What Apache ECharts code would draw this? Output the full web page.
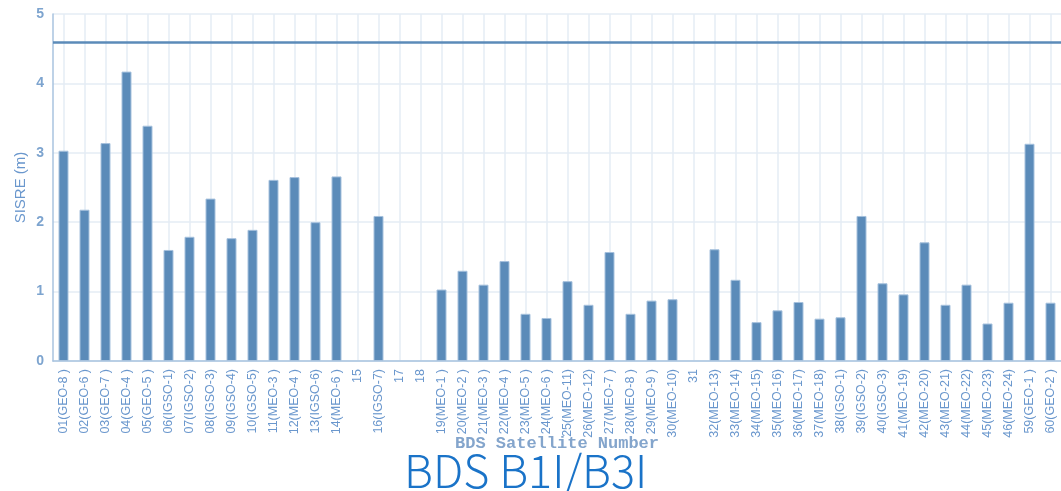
<!DOCTYPE html>
<html>
<head>
<meta charset="utf-8">
<script src="https://cdn.jsdelivr.net/npm/echarts@6/dist/echarts.min.js"></script>
<style>
  html, body { margin: 0; padding: 0; background: #fff; }
  #main { width: 1061px; height: 491px; }
</style>
</head>
<body>
<div id="main"></div>
<script>
// satellite labels on the x axis
var satellites = [
  '01(GEO-8 )', '02(GEO-6 )', '03(GEO-7 )', '04(GEO-4 )', '05(GEO-5 )',
  '06(IGSO-1)', '07(IGSO-2)', '08(IGSO-3)', '09(IGSO-4)', '10(IGSO-5)',
  '11(MEO-3 )', '12(MEO-4 )', '13(IGSO-6)', '14(MEO-6 )', '15',
  '16(IGSO-7)', '17', '18', '19(MEO-1 )', '20(MEO-2 )',
  '21(MEO-3 )', '22(MEO-4 )', '23(MEO-5 )', '24(MEO-6 )', '25(MEO-11)',
  '26(MEO-12)', '27(MEO-7 )', '28(MEO-8 )', '29(MEO-9 )', '30(MEO-10)',
  '31', '32(MEO-13)', '33(MEO-14)', '34(MEO-15)', '35(MEO-16)',
  '36(MEO-17)', '37(MEO-18)', '38(IGSO-1)', '39(IGSO-2)', '40(IGSO-3)',
  '41(MEO-19)', '42(MEO-20)', '43(MEO-21)', '44(MEO-22)', '45(MEO-23)',
  '46(MEO-24)', '59(GEO-1 )', '60(GEO-2 )'
];
// SISRE values (m), '-' = no data
var sisre = [
  3.03, 2.18, 3.14, 4.17, 3.39,
  1.60, 1.79, 2.34, 1.77, 1.89,
  2.61, 2.65, 2.00, 2.66, '-',
  2.09, '-', '-', 1.03, 1.30,
  1.10, 1.44, 0.68, 0.62, 1.15,
  0.81, 1.57, 0.68, 0.87, 0.89,
  '-', 1.61, 1.17, 0.56, 0.73,
  0.85, 0.61, 0.63, 2.09, 1.12,
  0.96, 1.71, 0.81, 1.10, 0.54,
  0.84, 3.13, 0.84
];
var limitLine = 4.6;
var yTicks = [0, 1, 2, 3, 4, 5];

var chart = echarts.init(document.getElementById('main'), null, { renderer: 'canvas' });

var labelColor = '#6a97cd';
var axisColor = '#a9c3df';

var option = {
  animation: false,
  grid: {
    left: 53,
    right: -2,
    top: 14,
    bottom: 130,
    containLabel: false
  },
  xAxis: {
    type: 'category',
    data: satellites,
    name: 'BDS Satellite Number',
    nameLocation: 'middle',
    nameGap: 74,
    nameMoveOverlap: false,
    nameTextStyle: {
      fontFamily: 'Liberation Mono',
      fontWeight: 'bold',
      fontSize: 17,
      color: '#84a5cc'
    },
    axisLine: { lineStyle: { color: axisColor, width: 1.5 } },
    axisTick: { show: false },
    axisLabel: {
      interval: 0,
      rotate: 90,
      margin: 8,
      fontFamily: 'Liberation Sans Narrow, Liberation Sans, sans-serif',
      fontSize: 12.5,
      color: labelColor
    },
    splitLine: {
      show: true,
      alignWithLabel: true,
      lineStyle: { color: '#e5ecf5', width: 1.5 }
    }
  },
  yAxis: {
    type: 'value',
    min: yTicks[0],
    max: yTicks[yTicks.length - 1],
    interval: 1,
    name: 'SISRE (m)',
    nameLocation: 'middle',
    nameGap: 25,
    nameMoveOverlap: false,
    nameTextStyle: {
      fontFamily: 'Liberation Sans Narrow, Liberation Sans, sans-serif',
      fontSize: 15,
      color: labelColor
    },
    axisLine: { show: true, lineStyle: { color: axisColor, width: 1.5 } },
    axisTick: { show: false },
    axisLabel: {
      margin: 9,
      fontFamily: 'Liberation Sans, sans-serif',
      fontWeight: 'bold',
      fontSize: 14,
      color: '#7da4cf'
    },
    splitLine: { lineStyle: { color: '#e5ecf5', width: 1.5 } }
  },
  series: [{
    type: 'bar',
    data: sisre,
    barWidth: 10,
    itemStyle: {
      color: '#5b8bb9',
      borderColor: '#a6c1dd',
      borderWidth: 1
    },
    markLine: {
      silent: true,
      symbol: 'none',
      label: { show: false },
      lineStyle: { color: '#5b8bb9', width: 2.5, type: 'solid' },
      data: [{ yAxis: limitLine }]
    }
  }],
  graphic: [{
    type: 'text',
    left: 404,
    top: 448,
    style: {
      text: 'BDS B1I/B3I',
      fontFamily: 'Noto Sans CJK SC, DejaVu Sans, sans-serif',
      fontWeight: 300,
      fontSize: 45,
      fill: '#1a73c8'
    }
  }]
};

chart.setOption(option);
</script>
</body>
</html>
